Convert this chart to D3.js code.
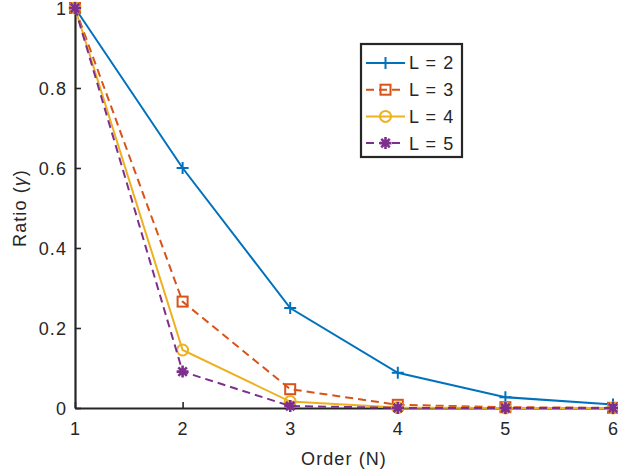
<!DOCTYPE html>
<html>
<head>
<meta charset="utf-8">
<script src="https://cdn.jsdelivr.net/npm/d3@7"></script>
<style>
  body { margin: 0; background: #fff; }
  text { font-family: "Liberation Sans", Helvetica, Arial, sans-serif; fill: #262626; letter-spacing: 1.1px; }
</style>
</head>
<body>
<div id="chart"></div>
<script>
const orders = [1, 2, 3, 4, 5, 6];
const seriesNames = ["L = 2", "L = 3", "L = 4", "L = 5"];
const ratioL2 = [1, 0.6, 0.25, 0.088, 0.027, 0.009];
const ratioL3 = [1, 0.266, 0.047, 0.008, 0.002, 0.0005];
const ratioL4 = [1, 0.145, 0.016, 0.001, 0.0002, 0];
const ratioL5 = [1, 0.091, 0.005, 0.0003, 0, 0];
const yTicks = [0, 0.2, 0.4, 0.6, 0.8, 1];

const colors = ["#0072BD", "#D95319", "#EDB120", "#7E2F8E"];
const dashes = [null, "8,5", null, "8,5"];
const markers = ["plus", "square", "circle", "star"];
const allSeries = [ratioL2, ratioL3, ratioL4, ratioL5];

const width = 618, height = 474;
const margin = { left: 75, right: 5, top: 8, bottom: 66 };
const fontSize = 18;

const svg = d3.select("#chart").append("svg")
    .attr("width", width)
    .attr("height", height);

const x = d3.scaleLinear().domain([1, 6]).range([margin.left, width - margin.right]);
const y = d3.scaleLinear().domain([0, 1]).range([height - margin.bottom, margin.top]);

// axes (MATLAB style, ticks inward, box off)
const xAxis = svg.append("g")
    .attr("transform", `translate(0,${y(0)})`)
    .call(d3.axisBottom(x).tickValues(orders).tickSizeInner(-6).tickSizeOuter(0).tickPadding(14).tickFormat(d3.format("d")));
const yAxis = svg.append("g")
    .attr("transform", `translate(${x(1)},0)`)
    .call(d3.axisLeft(y).tickValues(yTicks).tickSizeInner(-6).tickSizeOuter(0).tickPadding(8).tickFormat(d => d === 0 || d === 1 ? d : d.toFixed(1)));

[xAxis, yAxis].forEach(g => {
    g.select(".domain").attr("stroke", "#262626").attr("stroke-width", 2.2);
    g.selectAll(".tick line").attr("stroke", "#262626").attr("stroke-width", 1.6);
    g.selectAll(".tick text").attr("font-size", fontSize).attr("fill", "#262626")
        .style("font-family", "'Liberation Sans', Helvetica, Arial, sans-serif");
});
yAxis.selectAll(".tick text").attr("dy", "0.36em");

svg.append("text")
    .attr("x", (x(1) + x(6)) / 2)
    .attr("y", 465)
    .attr("text-anchor", "middle")
    .attr("font-size", fontSize)
    .text("Order (N)");

const yLabel = svg.append("text")
    .attr("transform", `translate(26,${(y(0) + y(1)) / 2}) rotate(-90)`)
    .attr("text-anchor", "middle")
    .attr("font-size", fontSize);
yLabel.append("tspan").text("Ratio (");
yLabel.append("tspan").attr("font-style", "italic").text("γ");
yLabel.append("tspan").text(")");

function drawMarker(g, type, cx, cy, color) {
    if (type === "plus") {
        g.append("path").attr("d", `M${cx - 6},${cy}H${cx + 6}M${cx},${cy - 6}V${cy + 6}`)
            .attr("stroke", color).attr("stroke-width", 2).attr("fill", "none");
    } else if (type === "square") {
        g.append("rect").attr("x", cx - 5).attr("y", cy - 5).attr("width", 10).attr("height", 10)
            .attr("stroke", color).attr("stroke-width", 2).attr("fill", "none");
    } else if (type === "circle") {
        g.append("circle").attr("cx", cx).attr("cy", cy).attr("r", 5.5)
            .attr("stroke", color).attr("stroke-width", 2).attr("fill", "none");
    } else {
        let d = "";
        for (let k = 0; k < 4; k++) {
            const a = k * Math.PI / 4;
            const dx = 6 * Math.cos(a), dy = 6 * Math.sin(a);
            d += `M${cx - dx},${cy - dy}L${cx + dx},${cy + dy}`;
        }
        g.append("path").attr("d", d).attr("stroke", color).attr("stroke-width", 2.6).attr("fill", "none");
    }
}

const line = d3.line().x((d, i) => x(orders[i])).y(d => y(d));

const plot = svg.append("g");
allSeries.forEach((vals, s) => {
    plot.append("path")
        .datum(vals)
        .attr("d", line)
        .attr("fill", "none")
        .attr("stroke", colors[s])
        .attr("stroke-width", 2)
        .attr("stroke-dasharray", dashes[s]);
    vals.forEach((v, i) => drawMarker(plot, markers[s], x(orders[i]), y(v), colors[s]));
});

// legend
const legend = svg.append("g");
legend.append("rect")
    .attr("x", 361).attr("y", 44).attr("width", 101).attr("height", 113)
    .attr("fill", "#fff").attr("stroke", "#262626").attr("stroke-width", 2.2);
seriesNames.forEach((name, s) => {
    const ly = 63 + s * 26.7;
    legend.append("line")
        .attr("x1", 366).attr("x2", 405).attr("y1", ly).attr("y2", ly)
        .attr("stroke", colors[s]).attr("stroke-width", 2)
        .attr("stroke-dasharray", dashes[s]);
    drawMarker(legend, markers[s], 385.5, ly, colors[s]);
    legend.append("text")
        .attr("x", 409).attr("y", ly)
        .attr("dy", "0.36em")
        .attr("font-size", fontSize)
        .text(name);
});
</script>
</body>
</html>
